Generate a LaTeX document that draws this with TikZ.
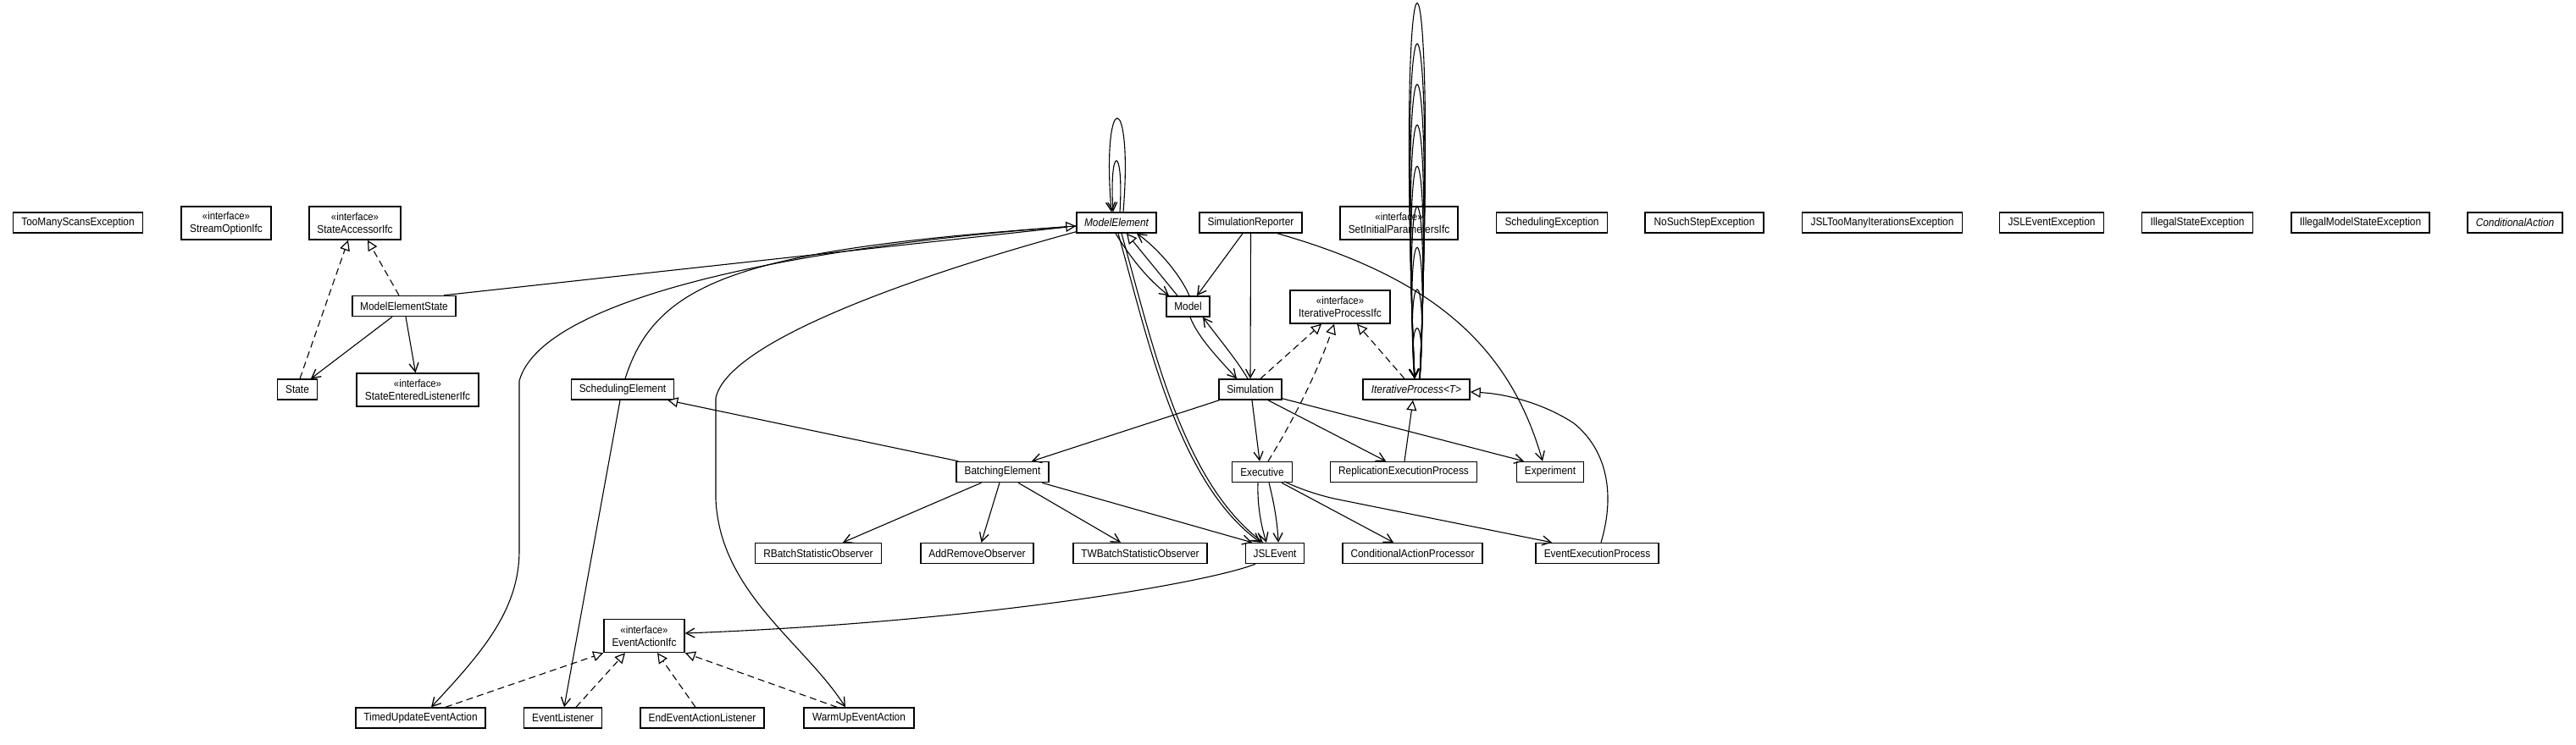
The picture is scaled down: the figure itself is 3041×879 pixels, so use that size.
\documentclass[tikz,border=0pt]{standalone}
\usepackage{fontspec}
\setmainfont{Liberation Sans}[FakeStretch=0.9]
\newfontfamily\absfont{Liberation Sans Italic}[FakeStretch=0.9, FakeSlant=0]
\usetikzlibrary{arrows.meta}
\begin{document}
\begin{tikzpicture}[x=1pt,y=-1pt,
  cls/.style={draw, line width=1.5pt, font=\fontsize{13.2}{15}\selectfont, minimum height=24pt, inner xsep=2pt, inner ysep=0pt, anchor=center},
  ifc/.style={cls, minimum height=39pt, align=center},
  abst/.style={cls, font=\absfont\fontsize{13.2}{15}\selectfont},
  plain/.style={line width=1.1pt},
  assoc/.style={line width=1.1pt, -{Straight Barb[length=10pt,width=11pt,line width=1.3pt]}},
  gen/.style={line width=1.1pt, -{Triangle[length=12pt,width=12pt,fill=white,line width=1.2pt]}},
  real/.style={gen, dash pattern=on 8pt off 5pt}
]
\useasboundingbox (0,0) rectangle (3041,879);
\fill[white] (0,0) rectangle (3041,879);
\newcommand{\ifcl}{{\fontsize{12.6}{15}\selectfont «interface»}}
% row 1
\node[cls,minimum width=153pt] (tmse) at (92,263) {TooManyScansException};
\node[ifc,minimum width=106pt] (soi) at (267,263.5) {\ifcl\\StreamOptionIfc};
\node[ifc,minimum width=108pt] (sai) at (419,263.5) {\ifcl\\StateAccessorIfc};
\node[abst,minimum width=94pt] (me) at (1318,263) {ModelElement};
\node[cls,minimum width=121pt] (sr) at (1476.5,263) {SimulationReporter};
\node[ifc,minimum width=139pt] (sipi) at (1651.5,263.5) {\ifcl\\SetInitialParametersIfc};
\node[cls,minimum width=131pt] (se) at (1832,263) {SchedulingException};
\node[cls,minimum width=140pt] (nsse) at (2012,263) {NoSuchStepException};
\node[cls,minimum width=189pt] (jtmie) at (2222,263) {JSLTooManyIterationsException};
\node[cls,minimum width=123pt] (jee) at (2422,263) {JSLEventException};
\node[cls,minimum width=131pt] (ise) at (2594,263) {IllegalStateException};
\node[cls,minimum width=163pt] (imse) at (2786.5,263) {IllegalModelStateException};
\node[abst,minimum width=112pt] (ca) at (2969,263) {ConditionalAction};
% row 2
\node[cls,minimum width=122pt] (mes) at (477,361.5) {ModelElementState};
\node[cls,minimum width=51pt] (model) at (1402.5,362) {Model};
\node[ifc,minimum width=118pt] (ipi) at (1582,362.5) {\ifcl\\IterativeProcessIfc};
% row 3
\node[cls,minimum width=47pt] (state) at (351,460) {State};
\node[ifc,minimum width=144pt] (seli) at (493,460.5) {\ifcl\\StateEnteredListenerIfc};
\node[cls,minimum width=121pt] (sche) at (735,460) {SchedulingElement};
\node[cls,minimum width=74pt] (sim) at (1476,460) {Simulation};
\node[abst,minimum width=126pt] (ip) at (1672,460) {IterativeProcess<T>};
% row 4
\node[cls,minimum width=109pt] (be) at (1183.5,557.5) {BatchingElement};
\node[cls,minimum width=71pt] (exe) at (1490,557.5) {Executive};
\node[cls,minimum width=173pt] (rep) at (1657,557.5) {ReplicationExecutionProcess};
\node[cls,minimum width=79pt] (exp) at (1830,557.5) {Experiment};
% row 5
\node[cls,minimum width=149pt] (rbso) at (966,653.5) {RBatchStatisticObserver};
\node[cls,minimum width=133pt] (aro) at (1153.5,653.5) {AddRemoveObserver};
\node[cls,minimum width=158pt] (twbso) at (1346,653.5) {TWBatchStatisticObserver};
\node[cls,minimum width=69pt] (jsle) at (1505,653.5) {JSLEvent};
\node[cls,minimum width=165pt] (cap) at (1667.5,653.5) {ConditionalActionProcessor};
\node[cls,minimum width=145pt] (eep) at (1885.5,653.5) {EventExecutionProcess};
% row 6
\node[ifc,minimum width=95pt] (eai) at (760.5,751) {\ifcl\\EventActionIfc};
% row 7
\node[cls,minimum width=153pt] (tuea) at (496.5,848) {TimedUpdateEventAction};
\node[cls,minimum width=92pt] (el) at (664.5,848) {EventListener};
\node[cls,minimum width=146pt] (eeal) at (829,848) {EndEventActionListener};
\node[cls,minimum width=130pt] (wuea) at (1014,848) {WarmUpEventAction};

% ModelElement self loops
\draw[assoc] ([xshift=8pt]me.north) .. controls (1338,103) and (1300,103) .. ([xshift=-6pt]me.north);
\draw[assoc] ([xshift=4pt]me.north) .. controls (1327,170) and (1309,170) .. ([xshift=-4pt]me.north);
% IterativeProcess self loops
\draw[assoc] ([xshift=4pt]ip.north) .. controls (1701,-144) and (1645,-144) .. ([xshift=-2pt]ip.north);
\draw[assoc] ([xshift=4pt]ip.north) .. controls (1699,-80) and (1647,-80) .. ([xshift=-2pt]ip.north);
\draw[assoc] ([xshift=4pt]ip.north) .. controls (1697,-16) and (1649,-16) .. ([xshift=-2pt]ip.north);
\draw[assoc] ([xshift=4pt]ip.north) .. controls (1695,48) and (1651,48) .. ([xshift=-2pt]ip.north);
\draw[assoc] ([xshift=4pt]ip.north) .. controls (1693,113) and (1653,113) .. ([xshift=-2pt]ip.north);
\draw[assoc] ([xshift=4pt]ip.north) .. controls (1691,177) and (1655,177) .. ([xshift=-2pt]ip.north);
\draw[assoc] ([xshift=4pt]ip.north) .. controls (1689,241) and (1657,241) .. ([xshift=-2pt]ip.north);
\draw[assoc] ([xshift=4pt]ip.north) .. controls (1687,307) and (1659,307) .. ([xshift=-2pt]ip.north);
\draw[assoc] ([xshift=4pt]ip.north) .. controls (1684,368) and (1662,368) .. ([xshift=-2pt]ip.north);

% into ModelElement from the left
\draw[plain] ([xshift=47pt]mes.north) -- ([yshift=-4pt]me.west);
\draw[gen] ([xshift=3pt]sche.north) .. controls (775,330) and (880,295) .. ([yshift=-4pt]me.west);
\draw[assoc] ([yshift=-4pt]me.west) .. controls (950,290) and (640,350) .. (613,450) -- (613,650) .. controls (613,720) and (570,770) .. ([xshift=12.5pt]tuea.north);
\draw[assoc] ([yshift=2pt]me.south west) .. controls (1100,320) and (860,400) .. (845,470) -- (845,590) .. controls (850,700) and (950,760) .. ([xshift=-16pt]wuea.north);

% ModelElement / Model / Simulation
\draw[assoc] ([xshift=-1pt]me.south) .. controls (1335,305) and (1355,330) .. ([xshift=-22.5pt]model.north);
\draw[gen] ([xshift=-12.5pt]model.north) -- ([xshift=12pt]me.south);
\draw[assoc] ([xshift=1.5pt]model.north) .. controls (1392,322) and (1365,292) .. ([xshift=24pt]me.south);
\draw[assoc] ([xshift=-9.5pt]sr.south) -- ([xshift=10.5pt]model.north);
\draw[assoc] (sr.south) -- (sim.north);
\draw[assoc] ([xshift=31.5pt]sr.south) .. controls (1680,325) and (1780,400) .. ([xshift=-9pt]exp.north);
\draw[assoc] ([xshift=2.5pt]model.south) .. controls (1415,400) and (1440,425) .. ([xshift=-16pt]sim.north);
\draw[assoc] ([xshift=-3pt]sim.north) .. controls (1460,425) and (1435,395) .. ([xshift=17.5pt]model.south);
\draw[real] ([xshift=12pt]sim.north) -- ([xshift=-22pt]ipi.south);
\draw[real] ([xshift=7pt]exe.north) .. controls (1525,500) and (1555,440) .. ([xshift=-7pt]ipi.south);
\draw[real] ([xshift=-14pt]ip.north) -- ([xshift=20pt]ipi.south);
\draw[assoc] ([xshift=2pt]me.south) .. controls (1355,400) and (1390,570) .. ([xshift=-17pt]jsle.north);
\draw[assoc] ([xshift=6pt]me.south) .. controls (1359,400) and (1394,568) .. ([xshift=-14pt]jsle.north);

% Simulation / Executive
\draw[assoc] ([xshift=2pt]sim.south) -- ([xshift=-3pt]exe.north);
\draw[assoc] ([xshift=-5pt]exe.south) .. controls (1484,600) and (1490,625) .. ([xshift=-10pt]jsle.north);
\draw[assoc] ([xshift=8pt]exe.south) .. controls (1503,590) and (1508,615) .. ([xshift=4pt]jsle.north);
\draw[assoc] ([xshift=1pt]sim.south west) -- ([xshift=34.5pt]be.north);
\draw[gen] ([xshift=3pt]be.north west) -- ([xshift=-8pt]sche.south east);
\draw[assoc] ([xshift=-25pt]be.south) -- ([xshift=29pt]rbso.north);
\draw[assoc] ([xshift=-3.5pt]be.south) -- ([xshift=5pt]aro.north);
\draw[assoc] ([xshift=18.5pt]be.south) -- ([xshift=-23pt]twbso.north);
\draw[assoc] ([xshift=46.5pt]be.south) -- ([xshift=-27pt]jsle.north);
\draw[assoc] ([xshift=21pt]sim.south) -- ([xshift=-21pt]rep.north);
\draw[assoc] ([yshift=2pt]sim.south east) -- ([xshift=-31pt]exp.north);
\draw[gen] ([xshift=1pt]rep.north) -- ([xshift=-4pt]ip.south);
\draw[assoc] ([xshift=23pt]exe.south) -- ([xshift=-22.5pt]cap.north);
\draw[assoc] ([xshift=-10pt,yshift=1.5pt]exe.south east) .. controls (1535,578) and (1560,586) .. (1580,590) -- ([xshift=-53.5pt]eep.north);
\draw[gen] ([xshift=4.5pt]eep.north) .. controls (1908,580) and (1895,530) .. (1858,500) .. controls (1820,475) and (1775,465) .. ([yshift=-3pt]ip.east);
\draw[assoc] ([xshift=-23pt]jsle.south) .. controls (1420,690) and (1150,735) .. ([yshift=3pt]eai.east);

% state cluster
\draw[assoc] ([xshift=-14pt]mes.south) -- ([xshift=16pt]state.north);
\draw[assoc] ([xshift=2pt]mes.south) -- ([xshift=-2.5pt]seli.north);
\draw[real] ([xshift=3pt]state.north) -- ([xshift=-8pt]sai.south);
\draw[real] ([xshift=-6pt]mes.north) -- ([xshift=15pt]sai.south);

% event actions
\draw[real] ([xshift=29.5pt]tuea.north) -- (eai.south west);
\draw[real] ([xshift=15.5pt]el.north) -- ([xshift=-22.5pt]eai.south);
\draw[real] ([xshift=-8pt]eeal.north) -- ([xshift=15.5pt]eai.south);
\draw[real] ([xshift=-26pt]wuea.north) -- (eai.south east);
\draw[assoc] ([xshift=-3pt]sche.south) -- ([xshift=1.5pt]el.north);
\end{tikzpicture}
\end{document}
